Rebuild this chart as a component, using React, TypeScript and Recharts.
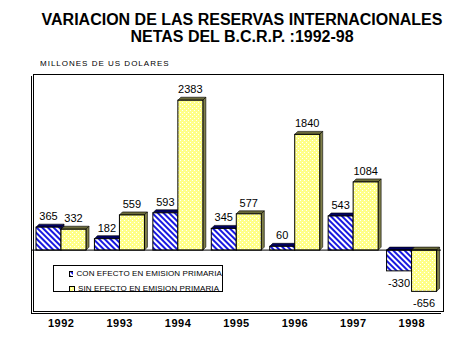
import React from 'react';
import { BarChart, Bar, XAxis, YAxis, ReferenceLine, LabelList } from 'recharts';

const years = ['1992', '1993', '1994', '1995', '1996', '1997', '1998'];
const conEfecto = [365, 182, 593, 345, 60, 543, -330];
const sinEfecto = [332, 559, 2383, 577, 1840, 1084, -656];

const data = years.map((year, i) => ({ year, con: conEfecto[i], sin: sinEfecto[i] }));

const FONT = 'Arial, "Liberation Sans", sans-serif';

// bar with a small 3D depth (top face + right face)
const Bar3D = (props: any) => {
  const { x, y, width, height, fill, sideColor, topColor } = props;
  if (x == null || y == null) return null;
  const t = Math.min(y, y + height);
  const h = Math.abs(height);
  const d = 3;
  return (
    <g>
      <polygon
        points={`${x},${t} ${x + d},${t - d} ${x + width + d},${t - d} ${x + width},${t}`}
        fill={topColor}
        stroke="#000"
        strokeWidth={0.6}
      />
      <polygon
        points={`${x + width},${t} ${x + width + d},${t - d} ${x + width + d},${t + h - d} ${x + width},${t + h}`}
        fill={sideColor}
        stroke="#000"
        strokeWidth={0.6}
      />
      <rect x={x} y={t} width={width} height={h} fill={fill} stroke="#000" strokeWidth={1} />
    </g>
  );
};

const renderValue = (props: any) => {
  const { x, y, width, height, value } = props;
  const top = Math.min(y, y + height);
  const bottom = Math.max(y, y + height);
  const ty = value < 0 ? bottom + 16 : top - 7;
  return (
    <text x={x + width / 2} y={ty} textAnchor="middle" fontSize={11} fontFamily={FONT} fill="#000">
      {value}
    </text>
  );
};

const PatternDefs = ({ prefix }: { prefix: string }) => (
  <defs>
    <pattern id={`${prefix}-hatch`} width={4} height={4} patternUnits="userSpaceOnUse" patternTransform="rotate(-45)">
      <rect width={4} height={4} fill="#ffffff" />
      <rect width={2} height={4} fill="#1818e0" />
    </pattern>
    <pattern id={`${prefix}-dots`} width={4} height={4} patternUnits="userSpaceOnUse">
      <rect width={4} height={4} fill="#ffff88" />
      <rect x={0} y={0} width={1} height={1} fill="#ffffff" />
      <rect x={2} y={2} width={1} height={1} fill="#ffffff" />
    </pattern>
  </defs>
);

const LegendRow = ({ label, fill }: { label: string; fill: string }) => (
  <div style={{ display: 'flex', alignItems: 'center', height: 15 }}>
    <svg width={6} height={6} style={{ marginRight: 3 }}>
      <PatternDefs prefix="lg" />
      <rect x={0.5} y={0.5} width={5} height={5} fill={fill} stroke="#000" strokeWidth={1} />
    </svg>
    <span>{label}</span>
  </div>
);

export default function App() {
  return (
    <div
      style={{
        position: 'absolute',
        left: 0,
        top: 0,
        width: 476,
        height: 356,
        background: '#fff',
        fontFamily: FONT,
        color: '#000',
      }}
    >
      <div
        style={{
          position: 'absolute',
          left: 0,
          top: 12,
          width: 484,
          textAlign: 'center',
          fontSize: 16,
          fontWeight: 'bold',
          lineHeight: '16.5px',
        }}
      >
        <div>VARIACION DE LAS RESERVAS INTERNACIONALES</div>
        <div>NETAS DEL B.C.R.P. :1992-98</div>
      </div>
      <div style={{ position: 'absolute', left: 40, top: 59, fontSize: 8, letterSpacing: 1, whiteSpace: 'nowrap' }}>
        MILLONES DE US DOLARES
      </div>

      {/* plot frame with shadowed left/bottom */}
      <div style={{ position: 'absolute', left: 31, top: 76, width: 0, height: 237, borderLeft: '1px solid #000' }} />
      <div style={{ position: 'absolute', left: 31, top: 313, width: 410, height: 0, borderTop: '1px solid #000' }} />
      <div
        style={{
          position: 'absolute',
          left: 33,
          top: 74,
          width: 409,
          height: 236,
          border: '1px solid #000',
          boxSizing: 'content-box',
        }}
      />

      <div style={{ position: 'absolute', left: 0, top: 0 }}>
        <BarChart
          width={476}
          height={356}
          data={data}
          margin={{ top: 74, right: 35, bottom: 13, left: 32 }}
          barCategoryGap={4}
          barGap={0}
        >
          <PatternDefs prefix="ch" />
          <XAxis
            dataKey="year"
            axisLine={false}
            tickLine={false}
            tickSize={0}
            tickMargin={6}
            height={30}
            interval={0}
            tick={{ fontSize: 11, fontWeight: 'bold', fill: '#000', fontFamily: FONT, letterSpacing: 0.5 }}
          />
          <YAxis hide type="number" domain={[-1000, 2800]} tickCount={20} allowDataOverflow />
          <Bar
            dataKey="con"
            name="CON EFECTO EN EMISION PRIMARIA"
            fill="url(#ch-hatch)"
            isAnimationActive={false}
            shape={(p: any) => <Bar3D {...p} topColor="#000060" sideColor="#000060" />}
          >
            <LabelList dataKey="con" content={renderValue} />
          </Bar>
          <Bar
            dataKey="sin"
            name="SIN EFECTO EN EMISION PRIMARIA"
            fill="url(#ch-dots)"
            isAnimationActive={false}
            shape={(p: any) => <Bar3D {...p} topColor="#6b6b3a" sideColor="#80804a" />}
          >
            <LabelList dataKey="sin" content={renderValue} />
          </Bar>
          <ReferenceLine y={0} stroke="#000" strokeWidth={1} />
        </BarChart>
      </div>

      <div
        style={{
          position: 'absolute',
          left: 53,
          top: 265,
          width: 170,
          height: 27,
          border: '1px solid #000',
          background: '#fff',
          fontSize: 8,
          letterSpacing: 0.1,
          paddingLeft: 15,
          boxSizing: 'border-box',
          whiteSpace: 'nowrap',
        }}
      >
        <LegendRow label="CON EFECTO EN EMISION PRIMARIA" fill="url(#lg-hatch)" />
        <LegendRow label="SIN EFECTO EN EMISION PRIMARIA" fill="url(#lg-dots)" />
      </div>
    </div>
  );
}
